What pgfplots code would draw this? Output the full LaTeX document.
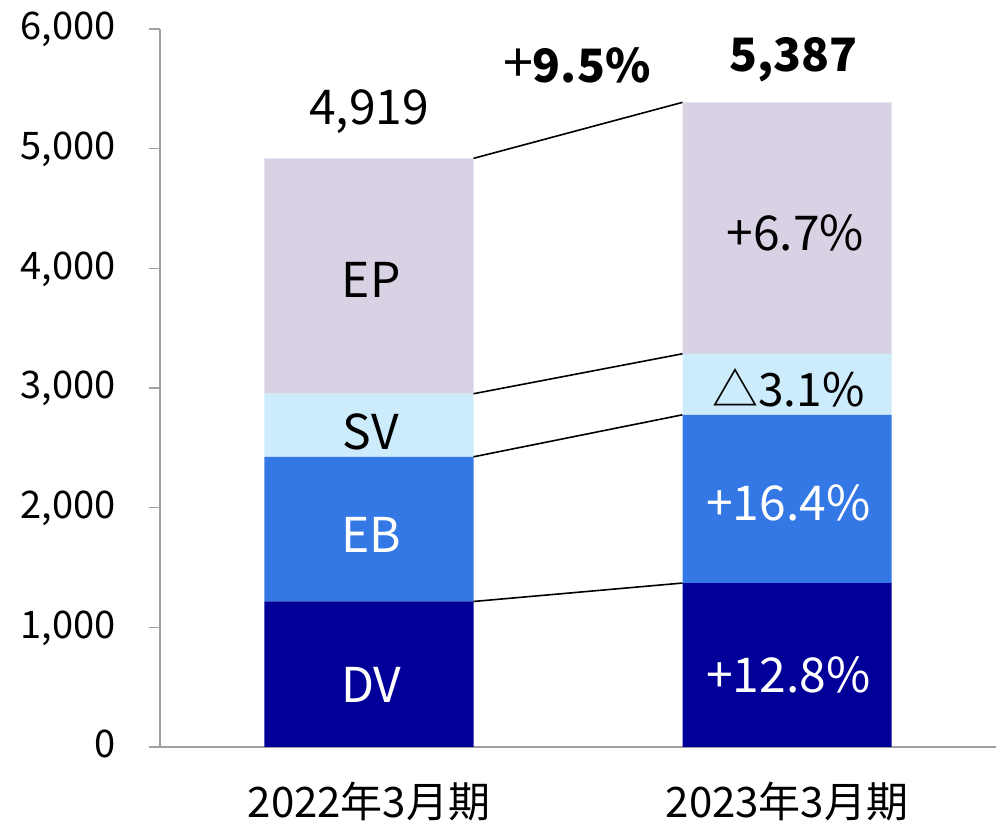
\documentclass[border=0pt]{standalone}
\usepackage{pgfplots}
\pgfplotsset{compat=1.18}
\usepackage{fontspec}
\setmainfont{Noto Sans CJK JP}
\definecolor{cDV}{RGB}{0,0,153}
\definecolor{cEB}{RGB}{51,120,229}
\definecolor{cSV}{RGB}{204,235,251}
\definecolor{cEP}{RGB}{217,210,229}
\definecolor{axgray}{RGB}{160,160,160}
\begin{document}
\begin{tikzpicture}
\path[use as bounding box] (-80pt,-38pt) rectangle (418pt,373.5pt);
\begin{axis}[
  at={(0,0)}, anchor=south west,
  scale only axis, width=418pt, height=359pt,
  xmin=-0.5, xmax=1.5, ymin=0, ymax=6000,
  ybar stacked, bar width=0.5,
  axis x line=bottom, axis y line=left,
  axis line style={axgray, line width=0.75pt, -},
  xtick={0,1}, xticklabels={2022年3月期,2023年3月期},
  x tick style={draw=none},
  ytick={0,1000,2000,3000,4000,5000,6000},
  y tick style={axgray, line width=0.75pt},
  tick align=outside, major tick length=5.5pt,
  /pgf/number format/assume math mode=true,
  /pgf/number format/1000 sep={,},
  /pgf/number format/fixed,
  yticklabel style={anchor=base east, inner sep=0pt, xshift=-16.5pt, yshift=-5.5pt, font=\fontsize{19pt}{19pt}\selectfont},
  xticklabel style={anchor=base, inner sep=0pt, yshift=-30pt, font=\fontsize{21pt}{21pt}\selectfont},
  clip=false,
]
\addplot[fill=cDV, draw=none] coordinates {(0,1216) (1,1370)};
\addplot[fill=cEB, draw=none] coordinates {(0,1209) (1,1406)};
\addplot[fill=cSV, draw=none] coordinates {(0,527) (1,510)};
\addplot[fill=cEP, draw=none] coordinates {(0,1967) (1,2101)};
\end{axis}
\begin{axis}[
  at={(0,0)}, anchor=south west,
  scale only axis, width=418pt, height=359pt,
  xmin=-0.5, xmax=1.5, ymin=0, ymax=6000,
  hide axis, clip=false,
]
\addplot[black, line width=0.8pt] coordinates {(0.25,4919) (0.75,5387)};
\addplot[black, line width=0.8pt] coordinates {(0.25,2952) (0.75,3286)};
\addplot[black, line width=0.8pt] coordinates {(0.25,2425) (0.75,2776)};
\addplot[black, line width=0.8pt] coordinates {(0.25,1216) (0.75,1370)};
\node[font=\fontsize{24pt}{24pt}\selectfont] at (axis cs:0,5307) {4,919};
\node[font=\fontsize{23pt}{23pt}\selectfont] at (axis cs:0.497,5695) {{\fontsize{27pt}{27pt}\selectfont +}\textbf{9.5\%}};
\node[font=\fontsize{23pt}{23pt}\selectfont\bfseries] at (axis cs:1.015,5742) {5,387};
\node[font=\fontsize{24pt}{24pt}\selectfont] at (axis cs:0.005,3904) {EP};
\node[font=\fontsize{24pt}{24pt}\selectfont] at (axis cs:0.005,2634) {SV};
\node[font=\fontsize{24pt}{24pt}\selectfont, text=white] at (axis cs:0.005,1773) {EB};
\node[font=\fontsize{24pt}{24pt}\selectfont, text=white] at (axis cs:0.005,520) {DV};
\node[font=\fontsize{24pt}{24pt}\selectfont] at (axis cs:1.02,4296) {+6.7\%};
\node[font=\fontsize{23pt}{23pt}\selectfont] at (axis cs:1.003,3002) {△3.1\%};
\node[font=\fontsize{24pt}{24pt}\selectfont, text=white] at (axis cs:1.003,2041) {+16.4\%};
\node[font=\fontsize{24pt}{24pt}\selectfont, text=white] at (axis cs:1.003,604) {+12.8\%};
\end{axis}
\end{tikzpicture}
\end{document}
